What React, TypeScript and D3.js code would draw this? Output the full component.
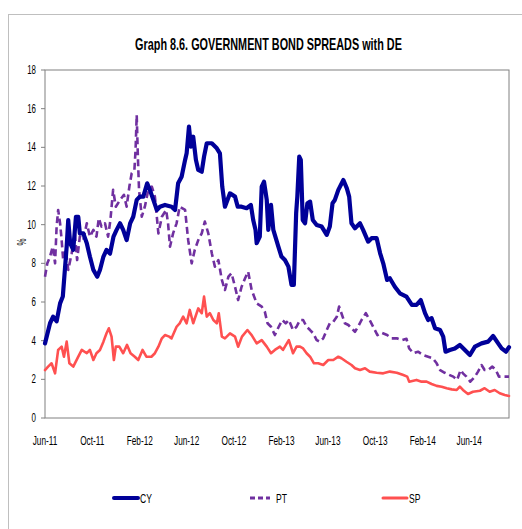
import React from "react";
import * as d3 from "d3";

const cyDates = ["2011-06-01","2011-06-14","2011-06-22","2011-07-01","2011-07-10","2011-07-17","2011-07-23","2011-07-27","2011-07-31","2011-08-05","2011-08-13","2011-08-20","2011-08-26","2011-08-30","2011-09-08","2011-09-17","2011-09-25","2011-10-04","2011-10-14","2011-10-21","2011-10-30","2011-11-07","2011-11-16","2011-11-25","2011-12-03","2011-12-12","2011-12-20","2011-12-29","2012-01-07","2012-01-15","2012-01-24","2012-02-01","2012-02-10","2012-02-20","2012-02-27","2012-03-07","2012-03-16","2012-03-24","2012-04-06","2012-04-23","2012-05-02","2012-05-06","2012-05-10","2012-05-19","2012-05-28","2012-06-01","2012-06-07","2012-06-12","2012-06-18","2012-06-25","2012-07-01","2012-07-10","2012-07-16","2012-07-23","2012-08-05","2012-08-18","2012-08-26","2012-09-01","2012-09-08","2012-09-21","2012-10-04","2012-10-11","2012-10-21","2012-11-03","2012-11-14","2012-11-20","2012-11-26","2012-11-29","2012-12-07","2012-12-12","2012-12-18","2012-12-25","2012-12-29","2013-01-05","2013-01-11","2013-01-24","2013-02-01","2013-02-10","2013-02-19","2013-02-27","2013-03-05","2013-03-11","2013-03-14","2013-03-19","2013-03-23","2013-03-28","2013-04-03","2013-04-09","2013-04-16","2013-04-23","2013-05-03","2013-05-16","2013-05-29","2013-06-06","2013-06-13","2013-06-19","2013-06-28","2013-07-11","2013-07-20","2013-07-26","2013-08-01","2013-08-10","2013-08-23","2013-08-31","2013-09-13","2013-09-22","2013-10-05","2013-10-14","2013-10-22","2013-11-01","2013-11-08","2013-11-21","2013-12-04","2013-12-21","2014-01-04","2014-01-16","2014-01-27","2014-02-07","2014-02-15","2014-02-24","2014-03-05","2014-03-18","2014-03-26","2014-04-01","2014-04-12","2014-04-25","2014-05-08","2014-05-21","2014-06-03","2014-06-16","2014-07-03","2014-07-20","2014-08-02","2014-08-15","2014-08-24","2014-09-04","2014-09-12"];
const cyValues = [3.86,4.9,5.24,5.0,5.93,6.28,7.83,8.86,10.24,9.04,8.7,10.41,10.4,9.55,9.55,9.04,8.35,7.66,7.31,7.66,8.35,8.69,8.5,9.38,9.73,10.07,9.73,9.2,10.07,10.41,11.28,11.45,11.45,12.14,11.8,11.28,10.76,10.93,11.02,10.93,10.76,11.45,12.14,12.48,13.35,13.69,15.07,14.04,14.55,13.35,12.83,12.74,13.52,14.21,14.21,13.95,13.69,11.97,10.93,11.62,11.45,10.93,10.93,10.85,11.02,10.24,9.73,9.04,9.38,11.97,12.22,11.28,9.73,11.02,9.73,8.86,8.35,8.17,7.83,6.88,6.88,10.59,11.45,13.52,13.35,10.24,10.07,11.11,11.19,10.24,9.98,9.9,9.47,9.9,11.11,11.28,11.8,12.31,11.88,11.45,10.07,9.81,10.07,9.73,9.12,9.3,9.3,8.52,8.0,7.14,7.23,6.79,6.45,6.28,5.85,5.85,6.1,5.42,5.07,5.16,4.64,4.55,4.21,3.43,3.52,3.6,3.78,3.52,3.26,3.69,3.86,3.95,4.24,3.86,3.6,3.43,3.66];

const ptDates = ["2011-06-01","2011-06-07","2011-06-14","2011-06-21","2011-06-27","2011-07-01","2011-07-05","2011-07-10","2011-07-14","2011-07-18","2011-07-25","2011-07-31","2011-08-09","2011-08-17","2011-08-23","2011-08-30","2011-09-08","2011-09-17","2011-09-25","2011-10-04","2011-10-12","2011-10-18","2011-10-25","2011-11-03","2011-11-11","2011-11-17","2011-11-24","2011-12-01","2011-12-12","2011-12-22","2011-12-29","2012-01-05","2012-01-11","2012-01-18","2012-01-21","2012-01-24","2012-01-27","2012-01-30","2012-02-06","2012-02-14","2012-02-23","2012-03-03","2012-03-11","2012-03-20","2012-03-29","2012-04-09","2012-04-14","2012-04-19","2012-04-27","2012-05-06","2012-05-14","2012-05-28","2012-06-05","2012-06-14","2012-06-22","2012-07-01","2012-07-10","2012-07-18","2012-07-27","2012-08-05","2012-08-13","2012-08-22","2012-08-31","2012-09-08","2012-09-17","2012-09-25","2012-10-04","2012-10-12","2012-10-21","2012-10-30","2012-11-07","2012-11-16","2012-11-29","2012-12-12","2012-12-20","2012-12-27","2013-01-05","2013-01-15","2013-01-25","2013-02-03","2013-02-12","2013-02-20","2013-03-03","2013-03-12","2013-03-21","2013-03-29","2013-04-07","2013-04-16","2013-04-24","2013-05-03","2013-05-11","2013-05-20","2013-05-29","2013-06-06","2013-06-15","2013-06-24","2013-06-30","2013-07-06","2013-07-15","2013-07-24","2013-08-01","2013-08-10","2013-08-18","2013-08-27","2013-09-07","2013-09-17","2013-09-26","2013-10-07","2013-10-18","2013-11-01","2013-11-13","2013-11-26","2013-12-09","2013-12-21","2013-12-28","2014-01-08","2014-01-20","2014-02-02","2014-02-15","2014-02-27","2014-03-09","2014-03-18","2014-03-30","2014-04-12","2014-04-21","2014-05-01","2014-05-10","2014-05-16","2014-05-25","2014-06-04","2014-06-16","2014-06-24","2014-07-03","2014-07-11","2014-07-20","2014-07-31","2014-08-09","2014-08-17","2014-08-28","2014-09-07","2014-09-12"];
const ptValues = [7.31,8.0,8.35,8.86,8.0,9.9,10.76,10.07,9.2,8.17,8.69,7.66,8.52,9.55,8.17,9.38,9.2,10.07,9.38,9.73,9.38,10.33,9.9,10.07,9.38,10.24,11.8,10.93,11.28,11.54,10.93,11.97,12.66,12.83,13.86,15.67,13.52,11.8,10.41,10.93,11.8,11.97,11.45,9.55,10.41,10.76,10.07,8.86,9.55,10.07,10.93,10.76,9.2,8.0,8.69,9.2,9.55,10.16,9.55,8.52,7.83,8.17,7.14,6.62,7.31,7.49,6.79,6.1,6.79,7.23,7.57,6.62,5.93,5.76,5.5,4.9,4.72,4.29,4.72,5.07,4.9,5.07,4.55,4.72,5.07,5.07,4.72,4.55,4.38,4.03,3.95,4.12,4.55,4.9,4.98,5.24,5.76,5.42,4.9,4.81,4.64,4.46,4.72,5.07,5.42,5.07,4.72,4.29,4.41,4.29,4.12,4.12,4.03,4.1,3.6,3.35,3.43,3.26,3.17,3.09,2.83,2.48,2.34,2.22,2.14,1.97,2.48,2.31,2.14,1.88,2.14,2.4,2.74,2.48,2.48,2.66,2.48,2.14,2.14,2.14,2.14];

const spDates = ["2011-06-01","2011-06-09","2011-06-18","2011-06-27","2011-07-05","2011-07-14","2011-07-20","2011-07-27","2011-08-03","2011-08-13","2011-08-26","2011-09-04","2011-09-17","2011-09-25","2011-10-04","2011-10-12","2011-10-21","2011-10-30","2011-11-07","2011-11-13","2011-11-20","2011-11-26","2011-12-01","2011-12-10","2011-12-20","2011-12-30","2012-01-08","2012-01-19","2012-01-28","2012-02-08","2012-02-18","2012-03-02","2012-03-11","2012-03-20","2012-03-29","2012-04-06","2012-04-17","2012-04-23","2012-05-06","2012-05-14","2012-05-23","2012-06-01","2012-06-09","2012-06-18","2012-07-01","2012-07-10","2012-07-16","2012-07-23","2012-07-31","2012-08-09","2012-08-18","2012-08-23","2012-08-31","2012-09-08","2012-09-21","2012-10-04","2012-10-12","2012-10-22","2012-11-05","2012-11-16","2012-11-29","2012-12-12","2012-12-25","2013-01-05","2013-01-15","2013-01-28","2013-02-05","2013-02-20","2013-03-03","2013-03-12","2013-03-21","2013-03-29","2013-04-07","2013-04-16","2013-04-26","2013-05-07","2013-05-20","2013-06-02","2013-06-15","2013-06-28","2013-07-06","2013-07-19","2013-08-01","2013-08-10","2013-08-23","2013-09-05","2013-09-17","2013-10-05","2013-10-22","2013-11-08","2013-11-26","2013-12-13","2013-12-23","2013-12-28","2014-01-16","2014-01-29","2014-02-11","2014-02-24","2014-03-09","2014-03-22","2014-04-04","2014-04-17","2014-04-30","2014-05-08","2014-05-16","2014-05-29","2014-06-11","2014-06-29","2014-07-11","2014-07-24","2014-08-06","2014-08-19","2014-09-01","2014-09-12"];
const spValues = [2.48,2.66,2.83,2.31,3.52,3.69,3.17,3.95,2.83,2.66,3.17,3.52,3.35,3.52,3.0,3.35,3.52,3.95,4.38,4.64,4.21,3.0,3.69,3.69,3.35,3.78,3.35,3.17,3.0,3.52,3.17,3.17,3.35,3.69,4.12,4.29,4.21,4.12,4.72,4.9,5.24,4.9,5.59,4.9,5.67,5.42,6.28,5.24,5.42,5.07,4.9,5.42,4.21,4.12,4.38,4.21,3.69,4.21,4.55,4.29,3.86,4.03,3.69,3.35,3.52,3.69,3.52,4.03,3.35,3.69,3.69,3.6,3.35,3.17,2.83,2.83,2.74,3.0,3.0,3.17,3.09,2.91,2.74,2.57,2.48,2.57,2.4,2.34,2.31,2.4,2.34,2.22,2.14,1.88,1.97,1.88,1.88,1.76,1.66,1.62,1.54,1.48,1.45,1.62,1.45,1.24,1.36,1.41,1.54,1.36,1.45,1.28,1.19,1.14];

const xTickLabels = ["Jun-11","Oct-11","Feb-12","Jun-12","Oct-12","Feb-13","Jun-13","Oct-13","Feb-14","Jun-14"];
const yTicks = [0,2,4,6,8,10,12,14,16,18];
const seriesNames = ["CY","PT","SP"];
const seriesColors = ["#000099","#7030A0","#FF5050"];
const titleText = "Graph 8.6. GOVERNMENT BOND SPREADS with DE";
const yAxisLabel = "%";

const FONT = "'Liberation Sans', Arial, sans-serif";
const SX = 0.66;

function T(props: { x: number; y: number; size: number; anchor?: string; bold?: boolean; sx?: number; children: React.ReactNode }) {
  return (
    <g transform={`translate(${props.x},${props.y}) scale(${props.sx ?? SX},1)`}>
      <text x={0} y={0} textAnchor={props.anchor || "start"} fontFamily={FONT} fontSize={props.size}
        fontWeight={props.bold ? "bold" : "normal"} fill="#000">{props.children}</text>
    </g>
  );
}

export default function App() {
  const W = 522, H = 529;
  const left = 45, right = 509, top = 70, bottom = 418;
  const parse = d3.timeParse("%Y-%m-%d");
  const x = d3.scaleTime()
    .domain([parse("2011-06-01")!, parse("2014-09-12")!])
    .range([left, right]);
  const y = d3.scaleLinear().domain([0, 18]).range([bottom, top]);
  const fmt = d3.timeFormat("%b-%y");
  const tickDates = xTickLabels.map((l) => d3.timeParse("%b-%y")(l)!);

  const mk = (dates: string[], vals: number[]) =>
    dates.map((d, i) => ({ d: parse(d)!, v: vals[i] }));
  const series = [mk(cyDates, cyValues), mk(ptDates, ptValues), mk(spDates, spValues)];
  const line = d3.line<{ d: Date; v: number }>()
    .x((p) => x(p.d))
    .y((p) => y(p.v))
    .curve(d3.curveLinear);

  const widths = [4.2, 2.6, 2.6];
  const dashes = [undefined, "7,4", undefined];
  const legendX = [114, 250, 383];
  const legendY = 498;

  return (
    <svg width={W} height={H} style={{ position: "absolute", left: 0, top: 0, background: "#fff" }}>
      <rect x={8.5} y={14.5} width={W} height={H} fill="#fff" stroke="#bfbfbf" strokeWidth={1} />
      <T x={268.5} y={50} size={16} bold anchor="middle" sx={0.678}>{titleText}</T>
      <rect x={left} y={top} width={right - left} height={bottom - top} fill="none" stroke="#808080" strokeWidth={1} />
      {yTicks.map((t) => (
        <g key={t}>
          <line x1={left - 4} x2={left} y1={y(t)} y2={y(t)} stroke="#808080" />
          <T x={36} y={y(t) + 4} size={12} anchor="end">{t}</T>
        </g>
      ))}
      {tickDates.map((d, i) => (
        <T key={i} x={x(d)} y={445} size={12.5} anchor="middle">{fmt(d)}</T>
      ))}
      <g transform={`translate(26,242) rotate(-90) scale(${SX},1)`}>
        <text x={0} y={0} textAnchor="middle" fontFamily={FONT} fontSize={12} fill="#000">{yAxisLabel}</text>
      </g>
      {[2, 1, 0].map((i) => (
        <path key={i} d={line(series[i]) || ""} fill="none" stroke={seriesColors[i]} strokeWidth={widths[i]}
          strokeDasharray={dashes[i]} strokeLinejoin="round" strokeLinecap={i === 1 ? "butt" : "round"} />
      ))}
      {seriesNames.map((n, i) => (
        <g key={n}>
          <line x1={legendX[i]} x2={legendX[i] + (i === 1 ? 20 : 24)} y1={legendY} y2={legendY} stroke={seriesColors[i]}
            strokeWidth={i === 0 ? 4 : 3} strokeDasharray={i === 1 ? "5,3" : undefined} strokeLinecap={i === 1 ? "butt" : "round"} />
          <T x={legendX[i] + 26} y={legendY + 4.5} size={13}>{n}</T>
        </g>
      ))}
    </svg>
  );
}
